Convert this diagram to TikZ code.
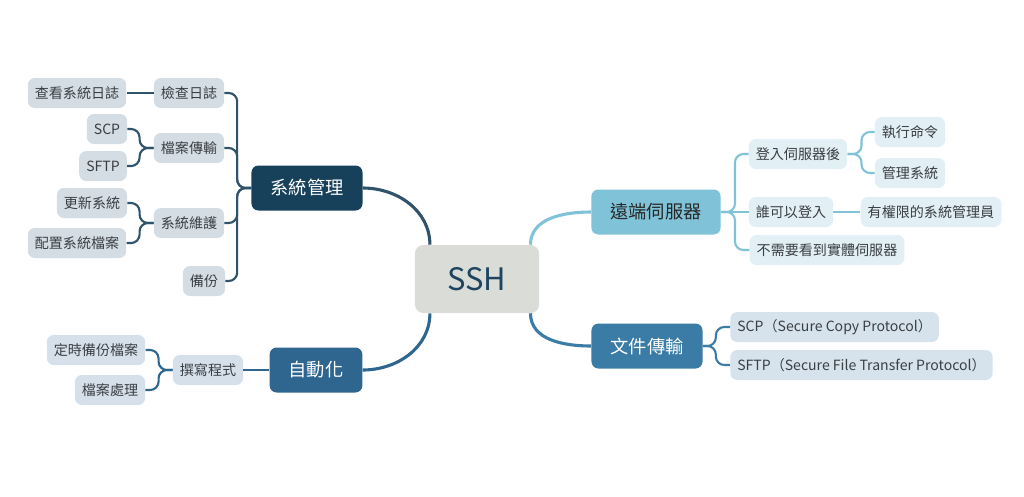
\documentclass[tikz,border=0pt]{standalone}
\usepackage{fontspec}
\setmainfont{Noto Sans CJK TC}
\definecolor{sshfill}{HTML}{D9DCD7}
\definecolor{sshtext}{HTML}{1E4560}
\definecolor{sysfill}{HTML}{17405A}
\definecolor{autofill}{HTML}{2E6690}
\definecolor{remotefill}{HTML}{80C3D8}
\definecolor{filefill}{HTML}{3A7CA5}
\definecolor{sysleaf}{HTML}{D4DDE4}
\definecolor{autoleaf}{HTML}{D6E0EA}
\definecolor{remoteleaf}{HTML}{E2EFF5}
\definecolor{fileleaf}{HTML}{D6E3EC}
\definecolor{leaftext}{HTML}{3A3F44}

\begin{document}
\begin{tikzpicture}[x=0.025cm, y=-0.025cm,
    topic/.style={rounded corners=5pt, inner xsep=13.5pt, minimum height=1.125cm, font=\fontsize{13}{15}\selectfont},
    leaf/.style={rounded corners=5pt, inner xsep=5pt, minimum height=0.75cm, font=\fontsize{10}{12}\selectfont, text=leaftext},
    mainline/.style={line width=2.2pt},
    subline/.style={line width=1.5pt, rounded corners=6pt}]
    \useasboundingbox (0,0) rectangle (1024,496);

    \node[fill=sshfill, text=sshtext, rounded corners=6pt, minimum width=3.1cm, minimum height=1.7cm, font=\fontsize{22}{26}\selectfont] (ssh) at (477,279) {SSH};

    \node[topic, fill=sysfill, text=white] (sys) at (307,188) {系統管理};
    \node[topic, fill=autofill, text=white] (auto) at (316,370) {自動化};
    \node[topic, fill=remotefill, text=black!85] (remote) at (656,212) {遠端伺服器};
    \node[topic, fill=filefill, text=white] (file) at (647,346) {文件傳輸};

    \node[leaf, fill=sysleaf] (chklog) at (189,93) {檢查日誌};
    \node[leaf, fill=sysleaf] (viewlog) at (77,93) {查看系統日誌};
    \node[leaf, fill=sysleaf] (xfer) at (189,148) {檔案傳輸};
    \node[leaf, fill=sysleaf] (xscp) at (107,129) {SCP};
    \node[leaf, fill=sysleaf] (xsftp) at (103,166) {SFTP};
    \node[leaf, fill=sysleaf] (maint) at (189,223) {系統維護};
    \node[leaf, fill=sysleaf] (update) at (92,203) {更新系統};
    \node[leaf, fill=sysleaf] (config) at (77,243) {配置系統檔案};
    \node[leaf, fill=sysleaf] (backup) at (204,281) {備份};

    \node[leaf, fill=autoleaf] (script) at (208,370) {撰寫程式};
    \node[leaf, fill=autoleaf] (cronbak) at (96,350) {定時備份檔案};
    \node[leaf, fill=autoleaf] (fileproc) at (110,390) {檔案處理};

    \node[leaf, fill=remoteleaf] (login) at (798,154) {登入伺服器後};
    \node[leaf, fill=remoteleaf] (runcmd) at (910,132) {執行命令};
    \node[leaf, fill=remoteleaf] (manage) at (910,173) {管理系統};
    \node[leaf, fill=remoteleaf] (who) at (791,212) {誰可以登入};
    \node[leaf, fill=remoteleaf] (admin) at (931,212) {有權限的系統管理員};
    \node[leaf, fill=remoteleaf] (nophys) at (827,250) {不需要看到實體伺服器};

    \node[leaf, fill=fileleaf, anchor=west] (scp) at (730,327) {SCP（Secure Copy Protocol）};
    \node[leaf, fill=fileleaf, anchor=west] (sftp) at (730,365) {SFTP（Secure File Transfer Protocol）};

    \draw[mainline, sysfill!90!white] (sys.east) to[out=0, in=90] ([xshift=0.38cm]ssh.north west);
    \draw[mainline, autofill] (auto.east) to[out=0, in=-90] ([xshift=0.38cm]ssh.south west);
    \draw[mainline, remotefill] ([xshift=-0.22cm]ssh.north east) to[out=90, in=180] (remote.west);
    \draw[mainline, filefill] ([xshift=-0.22cm]ssh.south east) to[out=-90, in=180] (file.west);

    \draw[subline, sysfill!90!white] (sys.west) -- ++(-14,0) |- (chklog.east);
    \draw[subline, sysfill!90!white] (sys.west) -- ++(-14,0) |- (xfer.east);
    \draw[subline, sysfill!90!white] (sys.west) -- ++(-14,0) |- (maint.east);
    \draw[subline, sysfill!90!white] (sys.west) -- ++(-14,0) |- (backup.east);
    \draw[subline, sysfill!90!white] (chklog.west) -- (viewlog.east);
    \draw[subline, sysfill!90!white] (xfer.west) -- ++(-14,0) |- (xscp.east);
    \draw[subline, sysfill!90!white] (xfer.west) -- ++(-14,0) |- (xsftp.east);
    \draw[subline, sysfill!90!white] (maint.west) -- ++(-14,0) |- (update.east);
    \draw[subline, sysfill!90!white] (maint.west) -- ++(-14,0) |- (config.east);

    \draw[subline, autofill] (auto.west) -- (script.east);
    \draw[subline, autofill] (script.west) -- ++(-14,0) |- (cronbak.east);
    \draw[subline, autofill] (script.west) -- ++(-14,0) |- (fileproc.east);

    \draw[subline, remotefill] (remote.east) -- ++(14,0) |- (login.west);
    \draw[subline, remotefill] (remote.east) -- (who.west);
    \draw[subline, remotefill] (remote.east) -- ++(14,0) |- (nophys.west);
    \draw[subline, remotefill] (login.east) -- ++(14,0) |- (runcmd.west);
    \draw[subline, remotefill] (login.east) -- ++(14,0) |- (manage.west);
    \draw[subline, remotefill] (who.east) -- (admin.west);

    \draw[subline, filefill] (file.east) -- ++(13,0) |- (scp.west);
    \draw[subline, filefill] (file.east) -- ++(13,0) |- (sftp.west);
\end{tikzpicture}
\end{document}
